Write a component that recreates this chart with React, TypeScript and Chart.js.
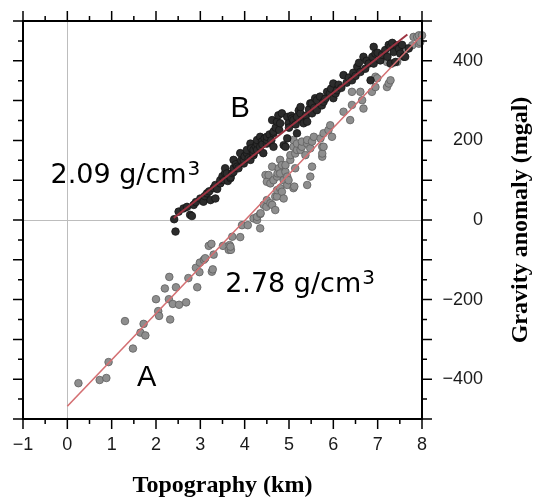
import React, { useEffect, useRef } from "react";
import { Chart, registerables } from "chart.js";

Chart.register(...registerables);

// ---- axes ----
const xMin = -1;
const xMax = 8;
const yMin = -500;
const yMax = 500;
const xTickValues = [-1, 0, 1, 2, 3, 4, 5, 6, 7, 8];
const xTickLabels = ["−1", "0", "1", "2", "3", "4", "5", "6", "7", "8"];
const yTickValues = [-400, -200, 0, 200, 400];
const yTickLabels = ["−400", "−200", "0", "200", "400"];
const xTitle = "Topography (km)";
const yTitle = "Gravity anomaly (mgal)";

// ---- series A (light grey points) ----
const seriesA: [number, number][] = [
  [0.25, -410], [0.73, -402], [0.88, -397], [0.93, -357], [1.3, -254], [1.48, -323],
  [1.65, -283], [1.72, -261], [1.76, -290], [2.0, -199], [2.05, -229], [2.07, -241],
  [2.2, -172], [2.29, -199], [2.3, -143], [2.32, -250], [2.38, -211], [2.45, -169],
  [2.52, -213], [2.68, -207], [2.73, -146], [2.9, -120], [2.93, -169], [2.98, -131],
  [2.99, -107], [3.08, -100], [3.11, -96], [3.19, -65], [3.25, -60], [3.26, -130],
  [3.28, -124], [3.3, -87], [3.51, -65], [3.64, -75], [3.66, -63], [3.69, -75],
  [3.68, -67], [3.72, -42], [3.9, -43], [3.94, -13], [4.07, -13], [4.2, 4],
  [4.28, 0], [4.28, 8], [4.35, -21], [4.35, 15], [4.36, 17], [4.43, 38],
  [4.47, 113], [4.49, 33], [4.5, 50], [4.5, 96], [4.54, 113], [4.58, 42],
  [4.58, 92], [4.62, 38], [4.62, 134], [4.65, 100], [4.69, 25], [4.69, 59],
  [4.73, 59], [4.73, 75], [4.73, 109], [4.74, 117], [4.77, 130], [4.8, 80],
  [4.8, 117], [4.8, 151], [4.84, 71], [4.84, 138], [4.88, 54], [4.88, 100],
  [4.92, 121], [4.92, 138], [4.96, 88], [4.96, 109], [4.99, 100], [5.03, 151],
  [5.03, 163], [5.1, 80], [5.12, 84], [5.1, 184], [5.1, 201], [5.14, 130],
  [5.14, 167], [5.18, 176], [5.18, 192], [5.26, 176], [5.29, 184], [5.29, 197],
  [5.37, 163], [5.41, 88], [5.41, 192], [5.41, 201], [5.48, 109], [5.48, 180],
  [5.52, 134], [5.52, 197], [5.56, 209], [5.71, 205], [5.75, 159], [5.75, 167],
  [5.75, 184], [5.78, 184], [5.78, 218], [5.89, 226], [5.93, 238], [5.97, 209],
  [6.23, 272], [6.38, 251], [6.42, 289], [6.42, 322], [6.61, 322], [6.65, 301],
  [6.68, 280], [6.87, 322], [6.95, 334], [6.95, 360], [6.99, 356], [7.21, 334],
  [7.21, 397], [7.25, 343], [7.29, 351], [7.32, 393], [7.44, 397], [7.62, 427],
  [7.66, 431], [7.78, 439], [7.81, 460], [7.89, 460], [7.93, 443], [7.93, 464],
  [7.96, 447], [8.0, 464],
];

// ---- series B (dark points) ----
const seriesB: [number, number][] = [
  [2.41, 2], [2.44, -29], [2.51, 21], [2.62, 29], [2.7, 33], [2.77, 13],
  [2.81, 10], [2.85, 38], [2.9, 45], [3.0, 54], [3.07, 46], [3.1, 60],
  [3.15, 67], [3.2, 72], [3.23, 50], [3.3, 80], [3.34, 54], [3.34, 88],
  [3.38, 78], [3.45, 92], [3.45, 100], [3.5, 110], [3.53, 100], [3.56, 118],
  [3.56, 130], [3.6, 117], [3.62, 98], [3.68, 105], [3.68, 108], [3.72, 118],
  [3.75, 121], [3.75, 130], [3.75, 151], [3.8, 140], [3.83, 134], [3.86, 130],
  [3.9, 168], [3.92, 150], [3.98, 142], [3.98, 151], [4.0, 160], [4.05, 168],
  [4.05, 176], [4.09, 155], [4.13, 151], [4.13, 192], [4.15, 180], [4.2, 163],
  [4.2, 168], [4.2, 176], [4.25, 185], [4.28, 176], [4.28, 192], [4.28, 201],
  [4.35, 184], [4.35, 209], [4.39, 197], [4.4, 190], [4.42, 168], [4.45, 205],
  [4.5, 192], [4.5, 201], [4.5, 209], [4.56, 215], [4.6, 200], [4.62, 251],
  [4.65, 184], [4.65, 218], [4.65, 222], [4.7, 232], [4.73, 247], [4.76, 263],
  [4.78, 226], [4.8, 243], [4.84, 268], [4.88, 188], [4.92, 184], [4.96, 205],
  [4.96, 259], [4.99, 243], [5.0, 232], [5.05, 262], [5.07, 255], [5.1, 243],
  [5.1, 251], [5.15, 240], [5.18, 218], [5.18, 259], [5.22, 275], [5.26, 268],
  [5.26, 284], [5.29, 251], [5.33, 243], [5.38, 262], [5.41, 247], [5.45, 278],
  [5.48, 293], [5.52, 268], [5.52, 293], [5.57, 282], [5.59, 306], [5.63, 276],
  [5.63, 301], [5.7, 310], [5.74, 288], [5.78, 297], [5.82, 305], [5.86, 322],
  [5.92, 318], [5.95, 330], [6.0, 306], [6.0, 343], [6.05, 318], [6.08, 326],
  [6.12, 340], [6.18, 332], [6.23, 364], [6.3, 345], [6.35, 358], [6.42, 351],
  [6.45, 370], [6.5, 362], [6.54, 385], [6.58, 395], [6.61, 372], [6.68, 410],
  [6.72, 380], [6.75, 400], [6.8, 393], [6.84, 351], [6.88, 410], [6.91, 393],
  [6.91, 435], [6.95, 418], [7.0, 420], [7.06, 401], [7.1, 415], [7.17, 427],
  [7.22, 410], [7.25, 440], [7.29, 393], [7.29, 435], [7.33, 445], [7.36, 422],
  [7.4, 397], [7.44, 439], [7.48, 430], [7.51, 418], [7.55, 440], [7.59, 410],
  [7.62, 410], [7.7, 431],
];

// ---- fitted lines ----
const fitAx = [0, 8];
const fitAy = [-468, 465];
const fitBx = [2.4, 7.67];
const fitBy = [5, 466];

// ---- annotations (data coordinates of text start / baseline) ----
const densityLabels = ["2.09 g/cm", "2.78 g/cm"];
const densityExp = ["3", "3"];
const densityX = [-0.38, 3.56];
const densityY = [93, -181];
const letterLabels = ["B", "A"];
const letterX = [3.68, 1.57];
const letterY = [259, -417];

const toPoints = (arr: [number, number][]) => arr.map(([x, y]) => ({ x, y }));
const toLine = (xs: number[], ys: number[]) => xs.map((x, i) => ({ x, y: ys[i] }));

const decorPlugin = {
  id: "decor",
  beforeDatasetsDraw(chart: any) {
    const { ctx, chartArea } = chart;
    const xs = chart.scales.x;
    const ys = chart.scales.y;
    ctx.save();
    ctx.strokeStyle = "#bdbdbd";
    ctx.lineWidth = 1;
    const x0 = Math.round(xs.getPixelForValue(0)) + 0.5;
    const y0 = Math.round(ys.getPixelForValue(0)) + 0.5;
    ctx.beginPath();
    ctx.moveTo(x0, chartArea.top);
    ctx.lineTo(x0, chartArea.bottom);
    ctx.moveTo(chartArea.left, y0);
    ctx.lineTo(chartArea.right, y0);
    ctx.stroke();
    ctx.restore();
  },
  afterDatasetsDraw(chart: any) {
    const { ctx, chartArea } = chart;
    const { left, right, top, bottom } = chartArea;
    const xs = chart.scales.x;
    const ys = chart.scales.y;
    ctx.save();
    // ticks
    ctx.strokeStyle = "#000";
    ctx.lineWidth = 1.5;
    ctx.beginPath();
    for (let v = xMin; v <= xMax + 1e-9; v += 0.5) {
      const p = xs.getPixelForValue(v);
      const len = Math.abs(v - Math.round(v)) < 1e-6 ? 10 : 5;
      ctx.moveTo(p, bottom);
      ctx.lineTo(p, bottom + len);
      ctx.moveTo(p, top);
      ctx.lineTo(p, top - len);
    }
    for (let v = yMin; v <= yMax + 1e-9; v += 50) {
      const p = ys.getPixelForValue(v);
      const len = Math.abs(v % 100) < 1e-6 ? 10 : 5;
      ctx.moveTo(left, p);
      ctx.lineTo(left - len, p);
      ctx.moveTo(right, p);
      ctx.lineTo(right + len, p);
    }
    ctx.stroke();
    // frame
    ctx.lineWidth = 2;
    ctx.strokeRect(left, top, right - left, bottom - top);

    // tick labels
    ctx.fillStyle = "#1a1a1a";
    ctx.font = "18px 'Liberation Sans', Arial, sans-serif";
    ctx.textAlign = "center";
    ctx.textBaseline = "middle";
    xTickValues.forEach((v, i) => {
      ctx.fillText(xTickLabels[i], xs.getPixelForValue(v), bottom + 26);
    });
    ctx.textAlign = "right";
    yTickValues.forEach((v, i) => {
      ctx.fillText(yTickLabels[i], right + 61, ys.getPixelForValue(v));
    });

    // titles
    ctx.fillStyle = "#000";
    ctx.font = "bold 24px 'Liberation Serif', 'Times New Roman', serif";
    ctx.textAlign = "center";
    ctx.textBaseline = "alphabetic";
    ctx.fillText(xTitle, (left + right) / 2, bottom + 73);
    ctx.save();
    ctx.translate(right + 105, (top + bottom) / 2);
    ctx.rotate(-Math.PI / 2);
    ctx.fillText(yTitle, 0, 0);
    ctx.restore();

    // annotations
    ctx.textAlign = "left";
    ctx.textBaseline = "alphabetic";
    ctx.fillStyle = "#000";
    densityLabels.forEach((t, i) => {
      const px = xs.getPixelForValue(densityX[i]);
      const py = ys.getPixelForValue(densityY[i]);
      ctx.font = "27px 'DejaVu Sans', sans-serif";
      ctx.fillText(t, px, py);
      const w = ctx.measureText(t).width;
      ctx.font = "20px 'DejaVu Sans', sans-serif";
      ctx.fillText(densityExp[i], px + w + 1, py - 8);
    });
    ctx.font = "29px 'Liberation Sans', Arial, sans-serif";
    letterLabels.forEach((t, i) => {
      ctx.fillText(t, xs.getPixelForValue(letterX[i]), ys.getPixelForValue(letterY[i]));
    });
    ctx.restore();
  },
};

export default function App() {
  const canvasRef = useRef<HTMLCanvasElement | null>(null);

  useEffect(() => {
    const canvas = canvasRef.current;
    if (!canvas) return;
    const chart = new Chart(canvas, {
      type: "scatter",
      data: {
        datasets: [
          {
            label: "fit B",
            data: toLine(fitBx, fitBy),
            showLine: true,
            borderColor: "#9e3341",
            borderWidth: 2,
            pointRadius: 0,
            order: 0,
          },
          {
            label: "fit A",
            data: toLine(fitAx, fitAy),
            showLine: true,
            borderColor: "#d46f72",
            borderWidth: 1.6,
            pointRadius: 0,
            order: 1,
          },
          {
            label: "B",
            data: toPoints(seriesB),
            backgroundColor: "#2c2c2c",
            borderColor: "#151515",
            borderWidth: 0.8,
            pointRadius: 3.8,
            order: 2,
          },
          {
            label: "A",
            data: toPoints(seriesA),
            backgroundColor: "#8e8e8e",
            borderColor: "#5e5e5e",
            borderWidth: 0.8,
            pointRadius: 3.8,
            order: 3,
            clip: false as any,
          },
        ],
      },
      options: {
        responsive: false,
        animation: false,
        devicePixelRatio: 1,
        events: [],
        layout: { padding: { left: 23, top: 21, right: 114, bottom: 83 } },
        plugins: { legend: { display: false }, tooltip: { enabled: false } },
        scales: {
          x: { type: "linear", min: xMin, max: xMax, display: false },
          y: { type: "linear", min: yMin, max: yMax, display: false },
        },
      },
      plugins: [decorPlugin],
    });
    return () => chart.destroy();
  }, []);

  return (
    <div style={{ position: "fixed", left: 0, top: 0, width: 536, height: 502, background: "#fff" }}>
      <canvas ref={canvasRef} width={536} height={502} style={{ display: "block" }} />
    </div>
  );
}
